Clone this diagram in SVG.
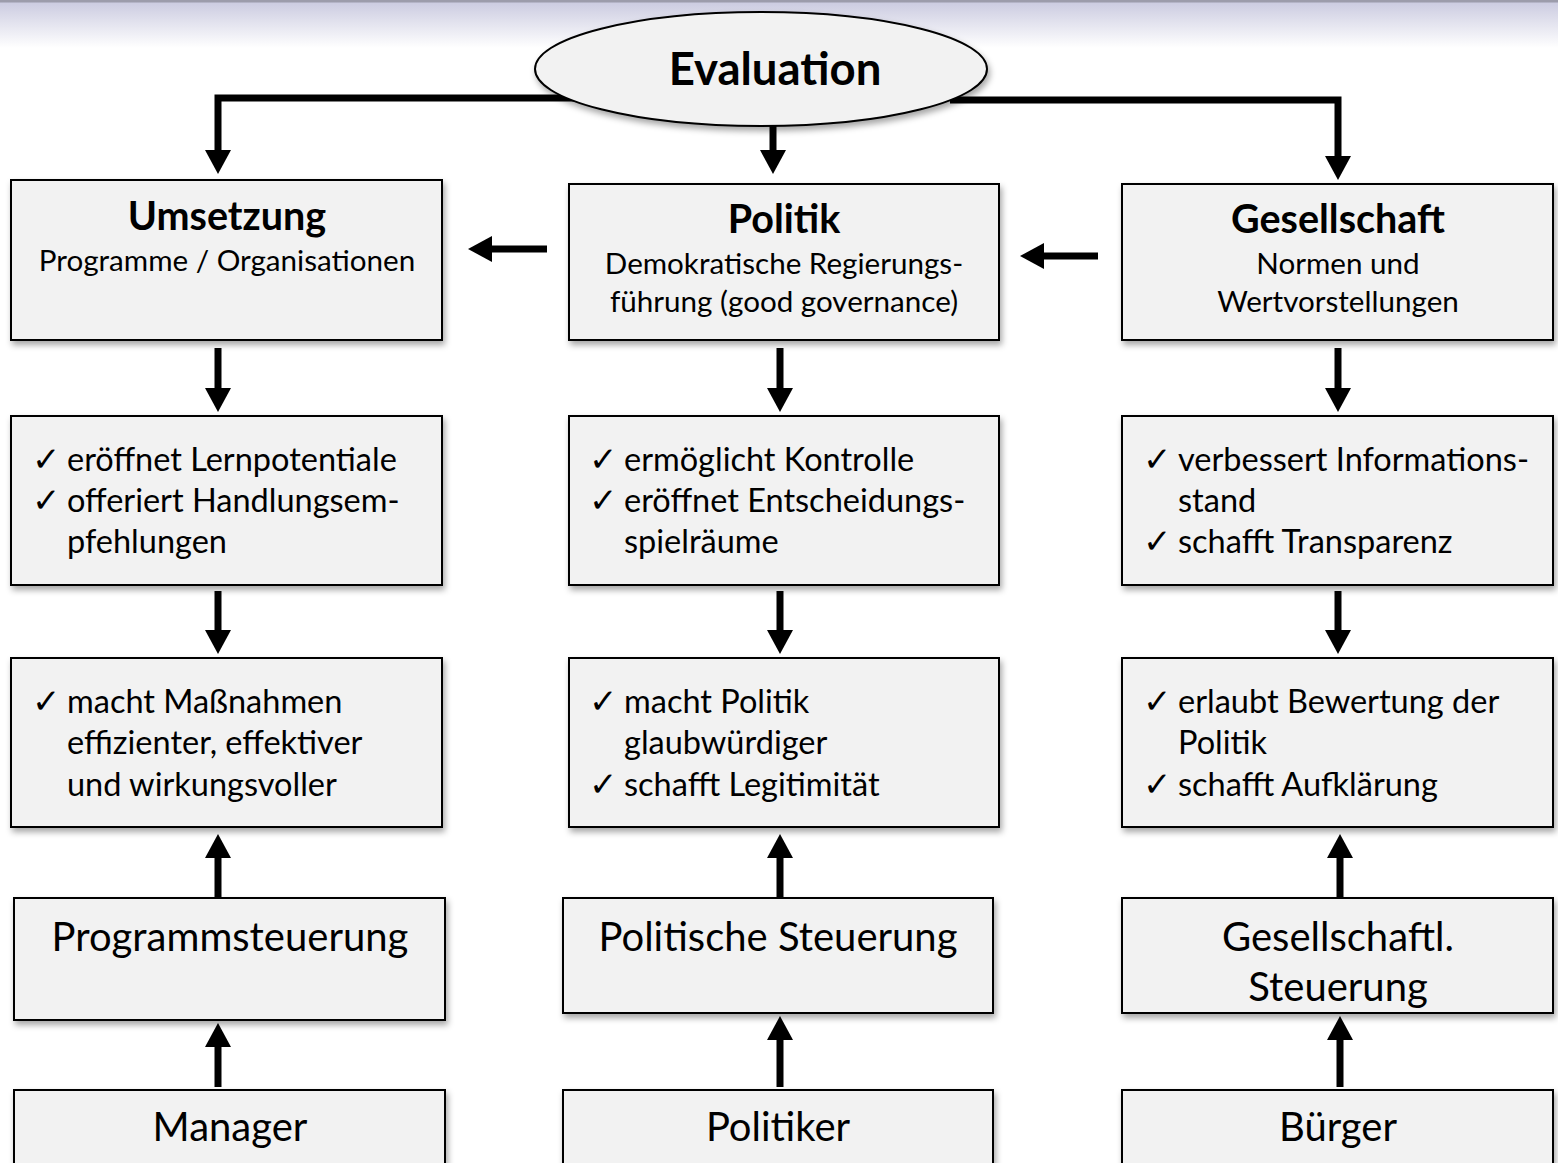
<svg xmlns="http://www.w3.org/2000/svg" width="1558" height="1163" viewBox="0 0 1558 1163">
<defs>
<linearGradient id="hdr" x1="0" y1="0" x2="0" y2="1">
<stop offset="0" stop-color="#c9c9df"/>
<stop offset="1" stop-color="#ffffff"/>
</linearGradient>
<filter id="sh" x="-10%" y="-10%" width="120%" height="130%">
<feDropShadow dx="2" dy="4" stdDeviation="3" flood-color="#000" flood-opacity="0.35"/>
</filter>
<marker id="ah" markerUnits="userSpaceOnUse" markerWidth="24" markerHeight="26" refX="2" refY="13" orient="auto">
<path d="M0,0 L24,13 L0,26 z" fill="#000"/>
</marker>
</defs>
<style>
.box{fill:#f2f2f2;stroke:#000;stroke-width:2;filter:url(#sh)}
.con{fill:none;stroke:#000;stroke-width:7;marker-end:url(#ah)}
text{font-family:Lato,"Liberation Sans",sans-serif;fill:#000}
.h{font-weight:bold;font-size:39.5px;text-anchor:middle}
.s{font-size:29.6px;text-anchor:middle}
.b{font-size:32.5px}
.ck{font-family:"DejaVu Sans",sans-serif;font-size:34px}
.l{font-size:40px;text-anchor:middle}
</style>
<rect x="0" y="0" width="1558" height="48" fill="url(#hdr)"/>
<rect x="0" y="0" width="1558" height="2.5" fill="#9c9cab"/>

<g id="connectors">
<polyline class="con" points="580,98 218,98 218,152"/>
<polyline class="con" points="950,100 1338,100 1338,158"/>
<line class="con" x1="773" y1="120" x2="773" y2="152"/>
<line class="con" x1="547" y1="249" x2="490" y2="249"/>
<line class="con" x1="1098" y1="256" x2="1042" y2="256"/>
<line class="con" x1="218" y1="348" x2="218" y2="390"/>
<line class="con" x1="218" y1="591" x2="218" y2="632"/>
<line class="con" x1="780" y1="348" x2="780" y2="390"/>
<line class="con" x1="780" y1="591" x2="780" y2="632"/>
<line class="con" x1="1338" y1="348" x2="1338" y2="390"/>
<line class="con" x1="1338" y1="591" x2="1338" y2="632"/>
<line class="con" x1="218" y1="898" x2="218" y2="856"/>
<line class="con" x1="218" y1="1087" x2="218" y2="1045"/>
<line class="con" x1="780" y1="898" x2="780" y2="856"/>
<line class="con" x1="780" y1="1087" x2="780" y2="1038"/>
<line class="con" x1="1340" y1="898" x2="1340" y2="856"/>
<line class="con" x1="1340" y1="1087" x2="1340" y2="1038"/>
</g>

<g id="evaluation">
<ellipse cx="761" cy="69" rx="226" ry="57" fill="#f2f2f2" stroke="#000" stroke-width="2" filter="url(#sh)"/>
<text x="775" y="85" font-size="45.5" font-weight="bold" text-anchor="middle">Evaluation</text>
</g>

<g id="umsetzung">
<rect class="box" x="11" y="180" width="431" height="160"/>
<text class="h" x="227" y="230">Umsetzung</text>
<text class="s" x="227" y="271">Programme / Organisationen</text>
</g>
<g id="politik">
<rect class="box" x="569" y="184" width="430" height="156"/>
<text class="h" x="784" y="233">Politik</text>
<text class="s" x="784" y="274">Demokratische Regierungs-</text>
<text class="s" x="784" y="312">führung (good governance)</text>
</g>
<g id="gesellschaft">
<rect class="box" x="1122" y="184" width="431" height="156"/>
<text class="h" x="1338" y="233">Gesellschaft</text>
<text class="s" x="1338" y="274">Normen und</text>
<text class="s" x="1338" y="312">Wertvorstellungen</text>
</g>

<g id="lernen">
<rect class="box" x="11" y="416" width="431" height="169"/>
<text class="ck" x="32" y="471">✓</text><text class="b" x="67" y="471">eröffnet Lernpotentiale</text>
<text class="ck" x="32" y="512">✓</text><text class="b" x="67" y="512">offeriert Handlungsem-</text>
<text class="b" x="67" y="553">pfehlungen</text>
</g>
<g id="kontrolle">
<rect class="box" x="569" y="416" width="430" height="169"/>
<text class="ck" x="589" y="471">✓</text><text class="b" x="624" y="471">ermöglicht Kontrolle</text>
<text class="ck" x="589" y="512">✓</text><text class="b" x="624" y="512">eröffnet Entscheidungs-</text>
<text class="b" x="624" y="553">spielräume</text>
</g>
<g id="information">
<rect class="box" x="1122" y="416" width="431" height="169"/>
<text class="ck" x="1143" y="471">✓</text><text class="b" x="1178" y="471">verbessert Informations-</text>
<text class="b" x="1178" y="512">stand</text>
<text class="ck" x="1143" y="553">✓</text><text class="b" x="1178" y="553">schafft Transparenz</text>
</g>

<g id="massnahmen">
<rect class="box" x="11" y="658" width="431" height="169"/>
<text class="ck" x="32" y="713">✓</text><text class="b" x="67" y="713">macht Maßnahmen</text>
<text class="b" x="67" y="754">effizienter, effektiver</text>
<text class="b" x="67" y="796">und wirkungsvoller</text>
</g>
<g id="glaubwuerdig">
<rect class="box" x="569" y="658" width="430" height="169"/>
<text class="ck" x="589" y="713">✓</text><text class="b" x="624" y="713">macht Politik</text>
<text class="b" x="624" y="754">glaubwürdiger</text>
<text class="ck" x="589" y="796">✓</text><text class="b" x="624" y="796">schafft Legitimität</text>
</g>
<g id="bewertung">
<rect class="box" x="1122" y="658" width="431" height="169"/>
<text class="ck" x="1143" y="713">✓</text><text class="b" x="1178" y="713">erlaubt Bewertung der</text>
<text class="b" x="1178" y="754">Politik</text>
<text class="ck" x="1143" y="796">✓</text><text class="b" x="1178" y="796">schafft Aufklärung</text>
</g>

<g id="programmsteuerung">
<rect class="box" x="14" y="898" width="431" height="122"/>
<text class="l" x="230" y="951">Programmsteuerung</text>
</g>
<g id="politische-steuerung">
<rect class="box" x="563" y="898" width="430" height="115"/>
<text class="l" x="778" y="951">Politische Steuerung</text>
</g>
<g id="gesellschaftl-steuerung">
<rect class="box" x="1122" y="898" width="431" height="115"/>
<text class="l" x="1338" y="951">Gesellschaftl.</text>
<text class="l" x="1338" y="1001">Steuerung</text>
</g>

<g id="manager">
<rect class="box" x="14" y="1090" width="431" height="90"/>
<text class="l" x="230" y="1141">Manager</text>
</g>
<g id="politiker">
<rect class="box" x="563" y="1090" width="430" height="90"/>
<text class="l" x="778" y="1141">Politiker</text>
</g>
<g id="buerger">
<rect class="box" x="1122" y="1090" width="431" height="90"/>
<text class="l" x="1338" y="1141">Bürger</text>
</g>
</svg>
